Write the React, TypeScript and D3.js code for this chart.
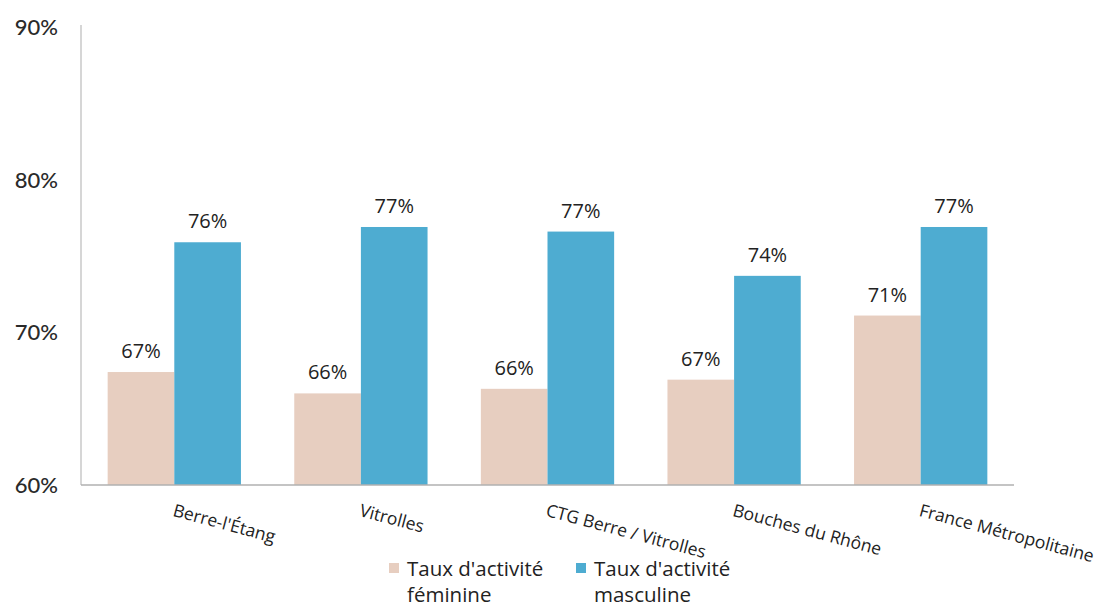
import React from "react";
import * as d3 from "d3";

const categories = ["Berre-l'Étang", "Vitrolles", "CTG Berre / Vitrolles", "Bouches du Rhône", "France Métropolitaine"];
const femaleValues = [67.4, 66.0, 66.3, 66.9, 71.1];
const maleValues = [75.9, 76.9, 76.6, 73.7, 76.9];
const femaleLabels = ["67%", "66%", "66%", "67%", "71%"];
const maleLabels = ["76%", "77%", "77%", "74%", "77%"];
const yTicks = [60, 70, 80, 90];
const seriesNames = ["female", "male"];
const legendLines = [["Taux d'activité", "féminine"], ["Taux d'activité", "masculine"]];

const W = 1106, H = 611;
const FEMALE = "#E7CEC0";
const MALE = "#4EACD1";

export default function App() {
  const x = d3.scaleBand<string>().domain(categories).range([81, 1014]).paddingInner(0).paddingOuter(0);
  const xi = d3.scaleBand<string>().domain(seriesNames).range([0, x.bandwidth()]).paddingInner(0).paddingOuter(0.4);
  const y = d3.scaleLinear().domain([60, 90]).range([485, 27]);
  const font = "'Open Sans', 'Liberation Sans', sans-serif";

  return (
    <svg width={W} height={H} style={{ position: "absolute", left: 0, top: 0, background: "#fff" }}>
      {/* y axis */}
      <line x1={81} x2={81} y1={y(90) - 2} y2={y(60)} stroke="#c8c8c8" strokeWidth={1.5} />
      {yTicks.map((t) => (
        <text key={t} x={58} y={y(t)} dy="0.36em" textAnchor="end" fontFamily="Lato, 'Noto Sans', sans-serif" fontSize={22} fill="#2a2a2a" fontWeight={500}>
          {t}%
        </text>
      ))}
      {/* bars */}
      {categories.map((c, i) => {
        const gx = x(c)!;
        const fx = gx + xi("female")!;
        const mx = gx + xi("male")!;
        const bw = xi.bandwidth();
        return (
          <g key={c}>
            <rect x={fx} y={y(femaleValues[i])} width={bw} height={y(60) - y(femaleValues[i])} fill={FEMALE} />
            <rect x={mx} y={y(maleValues[i])} width={bw} height={y(60) - y(maleValues[i])} fill={MALE} />
            <text x={fx + bw / 2} y={y(femaleValues[i]) - 14} textAnchor="middle" fontFamily={font} fontSize={20} fill="#222">
              {femaleLabels[i]}
            </text>
            <text x={mx + bw / 2} y={y(maleValues[i]) - 14} textAnchor="middle" fontFamily={font} fontSize={20} fill="#222">
              {maleLabels[i]}
            </text>
            <text
              transform={`translate(${gx + x.bandwidth() / 2 + 1},${503}) rotate(15)`}
              dy="0.75em"
              fontFamily={font}
              fontSize={17.5}
              fill="#222"
            >
              {c}
            </text>
          </g>
        );
      })}
      {/* baseline */}
      <line x1={81} x2={1014} y1={y(60)} y2={y(60)} stroke="#b0b0b0" strokeWidth={1.5} />
      {/* legend */}
      {legendLines.map((lines, i) => {
        const lx = i === 0 ? 389 : 576;
        return (
          <g key={i}>
            <rect x={lx} y={563} width={10} height={10} fill={i === 0 ? FEMALE : MALE} />
            {lines.map((l, j) => (
              <text key={j} x={lx + 18} y={569 + j * 26} dy="0.36em" fontFamily={font} fontSize={20.5} fill="#222">
                {l}
              </text>
            ))}
          </g>
        );
      })}
    </svg>
  );
}
